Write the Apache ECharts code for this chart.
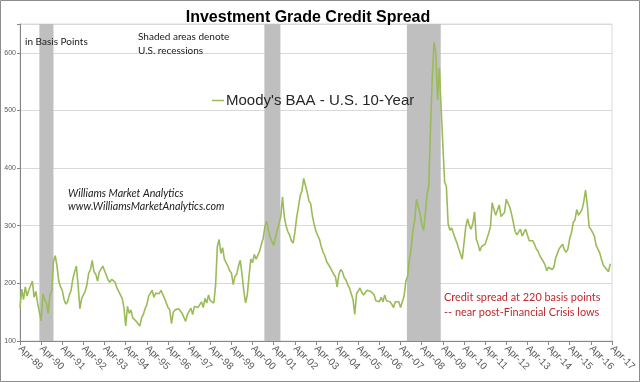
<!DOCTYPE html>
<html>
<head>
<meta charset="utf-8">
<script src="https://cdn.jsdelivr.net/npm/echarts@6/dist/echarts.min.js"></script>
<style>
html,body{margin:0;padding:0;background:#fff;}
#c{width:640px;height:382px;}
</style>
</head>
<body>
<div id="c"></div>
<script>
// Tick labels (one per April, every 12 months)
const tickLabels = ["Apr-89","Apr-90","Apr-91","Apr-92","Apr-93","Apr-94","Apr-95","Apr-96","Apr-97","Apr-98","Apr-99","Apr-00","Apr-01","Apr-02","Apr-03","Apr-04","Apr-05","Apr-06","Apr-07","Apr-08","Apr-09","Apr-10","Apr-11","Apr-12","Apr-13","Apr-14","Apr-15","Apr-16","Apr-17"];

// Moody's BAA - U.S. 10-Year spread (bp), monthly from Apr-89
const spread = [
158,190,172,194,178,188,196,204,176,186,166,150,
135,182,172,166,148,180,186,238,248,230,204,194,
188,172,164,168,180,188,208,220,230,196,156,174,
176,186,198,218,224,240,220,216,204,220,222,230,
222,220,206,202,207,204,202,192,192,180,174,158,
126,160,148,154,140,142,134,132,126,140,146,156,
163,178,180,188,176,183,182,182,188,188,174,176,
158,154,130,150,154,152,156,154,148,148,134,146,
148,157,146,160,158,158,160,168,158,174,166,180,
170,172,166,196,264,276,252,262,242,240,230,222,
218,198,212,216,230,240,216,188,166,180,213,242,
236,250,242,242,256,268,278,298,308,292,280,272,
266,280,292,304,316,350,316,300,290,284,274,270,
288,314,332,352,360,382,384,358,343,338,316,302,
290,288,276,264,254,248,238,236,228,226,216,212,
194,216,224,220,210,206,198,192,182,172,146,182,
182,192,184,180,180,188,188,186,188,180,170,168,
168,176,168,180,170,168,168,164,158,168,168,168,
158,156,178,204,212,242,260,292,308,346,344,322,
302,292,318,354,370,470,558,618,600,518,574,505,
440,376,368,303,292,296,287,278,270,260,258,242,
270,298,312,300,294,304,324,276,268,256,264,262,
268,268,287,298,340,328,318,320,336,316,316,323,
346,344,332,320,306,290,284,286,294,282,282,294,
294,274,272,274,268,260,256,248,246,238,232,222,
228,228,224,228,244,252,260,260,268,258,254,260,
278,288,306,310,328,318,318,328,342,362,336,298,
294,296,282,266,264,253,242,232,230,224,220,234
];

// Recessions, in months from Apr-89
const recessionStart = [11, 138.7, 219.6];
const recessionEnd   = [19, 147.8, 238.8];

const seriesName = "Moody's BAA - U.S. 10-Year";

const chart = echarts.init(document.getElementById('c'), null, {renderer:'canvas'});
const data = spread.map((v, i) => [i, v]);
const areas = recessionStart.map((s, k) => [{xAxis: s}, {xAxis: recessionEnd[k]}]);

const calibriLike = 'Lato, "Noto Sans", sans-serif';

chart.setOption({
  animation: false,
  backgroundColor: '#fff',
  grid: {left: 20, right: 28, top: 24, bottom: 41, show: true, borderColor: '#D9D9D9', borderWidth: 1},
  legend: {
    data: [seriesName], left: 212, top: 93, padding: 0,
    icon: 'rect', itemWidth: 12, itemHeight: 1.5, itemGap: 2,
    textStyle: {fontSize: 15, fontFamily: '"Liberation Sans", Arial, sans-serif', color: '#262626', padding: [0,0,0,-3]}
  },
  xAxis: {
    type: 'value', min: 0, max: 336, interval: 12,
    axisLine: {show: true, lineStyle: {color: '#868686'}},
    axisTick: {show: true, length: 4, lineStyle: {color: '#868686'}},
    splitLine: {show: false},
    axisLabel: {
      rotate: -45, fontSize: 10, color: '#595959', margin: 6,
      fontFamily: '"Liberation Sans", Arial, sans-serif',
      formatter: v => tickLabels[Math.round(v / 12)] || ''
    }
  },
  yAxis: {
    type: 'value', min: 100, max: 650, interval: 100,
    axisLine: {show: true, lineStyle: {color: '#868686'}},
    axisTick: {show: true, length: 3, lineStyle: {color: '#868686'}},
    splitLine: {show: true, lineStyle: {color: '#D9D9D9'}},
    axisLabel: {
      fontSize: 7, color: '#595959', margin: 4,
      fontFamily: '"Liberation Sans", Arial, sans-serif',
      formatter: v => (v > 600 ? '' : String(v))
    }
  },
  series: [{
    name: seriesName, type: 'line', data: data, showSymbol: false,
    lineStyle: {color: '#9BBB59', width: 1.6}, itemStyle: {color: '#9BBB59'},
    markArea: {silent: true, itemStyle: {color: '#BFBFBF', opacity: 1}, data: areas},
    z: 3
  }],
  graphic: [
    {type: 'rect', z: 100, shape: {x: 0.5, y: 0.5, width: 639, height: 381}, style: {fill: 'none', stroke: '#8C8C8C', lineWidth: 1}, silent: true},
    {type: 'text', z: 100, x: 308, y: 18, style: {text: 'Investment Grade Credit Spread', font: 'bold 16px "Liberation Sans", Arial, sans-serif', fill: '#000', textAlign: 'center', textVerticalAlign: 'middle'}},
    {type: 'text', z: 100, x: 25, y: 42, style: {text: 'in Basis Points', font: '10px ' + calibriLike, fill: '#1a1a1a', textVerticalAlign: 'middle'}},
    {type: 'text', z: 100, x: 138, y: 37, style: {text: 'Shaded areas denote', font: '10px ' + calibriLike, fill: '#1a1a1a', textVerticalAlign: 'middle'}},
    {type: 'text', z: 100, x: 138, y: 51, style: {text: 'U.S. recessions', font: '10px ' + calibriLike, fill: '#1a1a1a', textVerticalAlign: 'middle'}},
    {type: 'text', z: 100, x: 68, y: 194, style: {text: 'Williams Market Analytics', font: 'italic 10.7px ' + calibriLike, fill: '#1a1a1a', textVerticalAlign: 'middle'}},
    {type: 'text', z: 100, x: 68, y: 207, style: {text: 'www.WilliamsMarketAnalytics.com', font: 'italic 10.7px ' + calibriLike, fill: '#1a1a1a', textVerticalAlign: 'middle'}},
    {type: 'text', z: 100, x: 444, y: 297, style: {text: 'Credit spread at 220 basis points', font: '10.9px ' + calibriLike, fill: '#C0282D', textVerticalAlign: 'middle'}},
    {type: 'text', z: 100, x: 444, y: 312, style: {text: '-- near post-Financial Crisis lows', font: '10.9px ' + calibriLike, fill: '#C0282D', textVerticalAlign: 'middle'}}
  ]
});
</script>
</body>
</html>
